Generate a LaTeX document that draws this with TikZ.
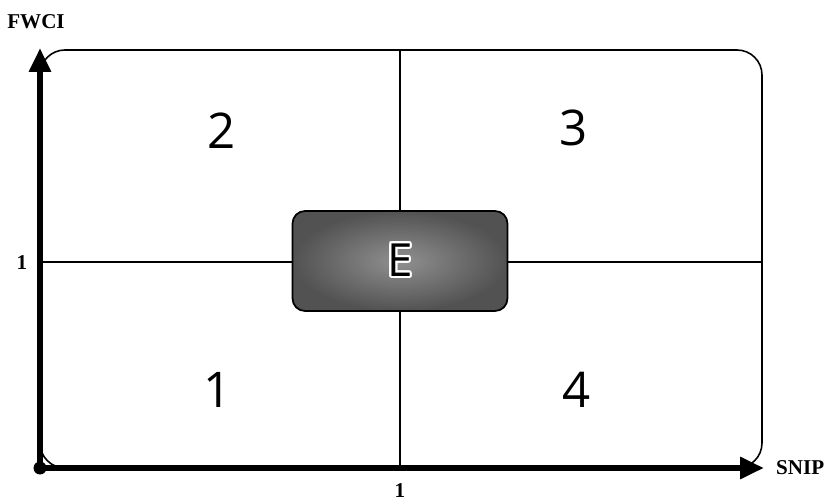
\documentclass[tikz,border=0pt]{standalone}
\usepackage{fontspec}
\setmainfont{Liberation Serif}
\setsansfont{Open Sans}
\usepackage{contour}
\usepackage{tikz}
\usetikzlibrary{positioning,arrows.meta}
\definecolor{boxinner}{HTML}{909090}
\definecolor{boxouter}{HTML}{525252}
\contourlength{1.2pt}

\begin{document}
\begin{tikzpicture}[
        x=0.02cm, y=-0.02cm,
        axis/.style={line width=0.12cm, -{Triangle[length=0.48cm, width=0.42cm]}},
        divider/.style={line width=0.6pt, black},
        frame/.style={line width=0.9pt, rounded corners=0.5cm},
        quadrant/.style={font=\sffamily\fontsize{28}{30}\selectfont},
        axislabel/.style={font=\bfseries\fontsize{12}{14}\selectfont},
        engine/.style={rectangle, rounded corners=0.25cm, draw=black, line width=1pt, inner color=boxinner, outer color=boxouter, minimum width=4.3cm, minimum height=2.0cm, font=\sffamily\fontsize{26}{30}\selectfont}
    ]
        \useasboundingbox (0,0) rectangle (830,502);
        \coordinate (o) at (40,468);
        \coordinate (ytip) at (40,48);
        \coordinate (xtip) at (764,468);

        % frame and quadrant lines
        \draw[frame] (o) rectangle (762,50);
        \draw[divider] (400,50) -- (400,468);
        \draw[divider] (40,262) -- (762,262);

        \node[engine] (e) at (400,261) {\contour{white}{E}};

        \node[quadrant] (q1) at (218,390) {1};
        \node[quadrant] (q2) at (222,131) {2};
        \node[quadrant] (q3) at (574,128) {3};
        \node[quadrant] (q4) at (577,390) {4};

        % axes
        \draw[axis] (o) -- (ytip);
        \draw[axis] (o) -- (xtip);
        \fill (o) circle (0.13cm);

        \node[axislabel] (fwci) at (36,22) {FWCI};
        \node[axislabel, right=0.12cm of xtip] (snip) {SNIP};
        \node[axislabel] (yone) at (22,263) {1};
        \node[axislabel] (xone) at (400,491) {1};
    \end{tikzpicture}
\end{document}
